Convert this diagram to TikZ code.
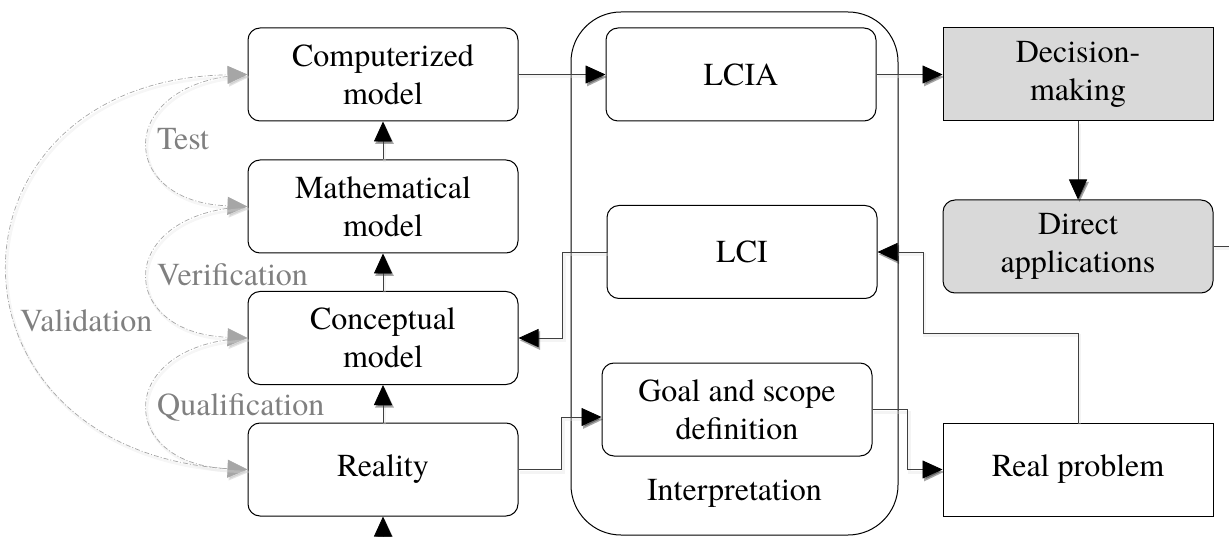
\documentclass[tikz,border=0pt]{standalone}
\usepackage{fontspec}
\setmainfont{texgyretermes}[Extension=.otf, UprightFont=*-regular, BoldFont=*-bold, ItalicFont=*-italic, BoldItalicFont=*-bolditalic]
\usetikzlibrary{arrows.meta}
\definecolor{boxgray}{HTML}{D9D9D9}
\definecolor{labelgray}{HTML}{808080}
\definecolor{loopgray}{HTML}{A6A6A6}
\definecolor{wiregray}{HTML}{404040}

\begin{document}
\begin{tikzpicture}[x=1pt,y=-1pt,
  every node/.style={font=\rmfamily\fontsize{32}{38}\selectfont, align=center},
  stage/.style={draw=black, line width=1pt, rounded corners=12pt,
    minimum width=270pt, minimum height=93pt, inner sep=0pt},
  sharpstage/.style={stage, rounded corners=0pt},
  shaded/.style={fill=boxgray},
  frame/.style={draw=black, line width=1pt, rounded corners=50pt,
    minimum width=327pt, minimum height=523pt, inner sep=0pt},
  tip/.style={-{Triangle[length=20pt,width=18pt,color=black]}},
  wire/.style={draw=wiregray, line width=0.8pt, tip,
    preaction={draw=black!12, line width=3pt, opacity=0.35,
      transform canvas={shift={(1.5pt,-2.5pt)}}}},
  loop/.style={draw=loopgray, line width=0.7pt,
    dash pattern=on 5pt off 2pt on 1pt off 2pt,
    -{Triangle[length=20pt,width=18pt,color=loopgray]},
    preaction={draw=black!12, line width=2.5pt, opacity=0.3, solid,
      transform canvas={shift={(1.5pt,-2.5pt)}}}},
  looplabel/.style={text=labelgray, anchor=base west, inner sep=0pt}
]
\useasboundingbox (0,0) rectangle (1229,537);

% Interpretation frame
\node[frame] (interp) at (734.5,273.5) {};
\node[anchor=base, inner sep=0pt] (interplabel) at (734.5,500) {Interpretation};

% Modelling chain
\node[stage] (comp) at (383,74.5) {Computerized\\model};
\node[stage] (math) at (383,206.5) {Mathematical\\model};
\node[stage] (conc) at (383,338) {Conceptual\\model};
\node[stage] (real) at (383,469.5) {Reality};

% LCA phases
\node[stage] (lcia) at (741,74.5) {LCIA};
\node[stage] (lci) at (742,252) {LCI};
\node[stage] (goal) at (737,409.5) {Goal and scope\\definition};

% Outcomes
\node[sharpstage, shaded] (dec) at (1078,74.5) {Decision-\\making};
\node[stage, shaded] (direct) at (1078,246.5) {Direct\\applications};
\node[sharpstage] (realprob) at (1078,469.5) {Real problem};

% free ends and bends
\coordinate (below) at (383,540);
\coordinate (outright) at (1232,246.5);
\coordinate (bend) at (923,333);

% connectors
\draw[wire] (below) -- (real.south);
\draw[wire] (real.north) -- (conc.south);
\draw[wire] (conc.north) -- (math.south);
\draw[wire] (math.north) -- (comp.south);
\draw[wire] (comp.east) -- (lcia.west);
\draw[wire] (lcia.east) -- (dec.west);
\draw[wire] (dec.south) -- (direct.north);
\draw[wire, -] (direct.east) -- (outright);
\draw[wire] (lci.west) -- ++(-44,0) |- (conc.east);
\draw[wire] (real.east) -- ++(43,0) |- ([yshift=-7.5pt]goal.west);
\draw[wire] (goal.east) -- ++(35,0) |- (realprob.west);
\draw[wire] (realprob.north) |- (bend) |- (lci.east);

% validation loops
\draw[loop] (comp.west) .. controls (115,80) and (115,202) .. (math.west);
\draw[loop] (math.west) .. controls (115,212) and (115,333) .. (conc.west);
\draw[loop] (conc.west) .. controls (115,343) and (115,464) .. (real.west);
\draw[loop] (real.west) .. controls (-72,465) and (-72,80) .. (comp.west);

\node[looplabel] (ltest) at (157,150) {Test};
\node[looplabel] (lverif) at (157,286) {Verification};
\node[looplabel] (lvalid) at (20,331) {Validation};
\node[looplabel] (lqual) at (157,415) {Qualification};
\end{tikzpicture}
\end{document}
